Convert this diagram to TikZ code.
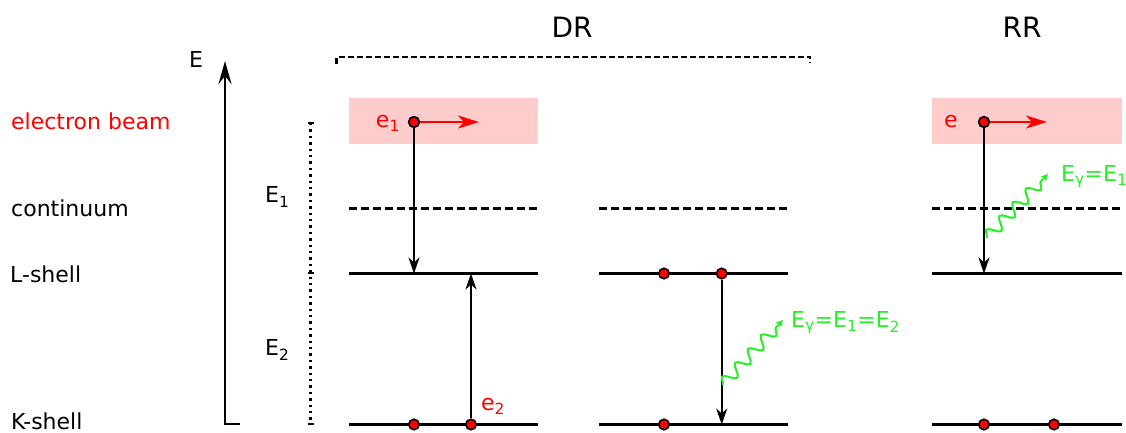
\documentclass[tikz,border=0pt]{standalone}
\usepackage{fontspec}
\setmainfont{DejaVu Sans}
\usetikzlibrary{arrows.meta,decorations.pathmorphing}
\definecolor{beam}{RGB}{255,204,204}
\definecolor{ered}{RGB}{255,0,0}
\definecolor{phot}{RGB}{40,240,40}
\tikzset{
  lbl/.style={font=\fontsize{22}{26}\selectfont, inner sep=0pt},
  big/.style={font=\fontsize{28}{32}\selectfont, inner sep=0pt},
  level/.style={line width=3pt},
  cont/.style={line width=3pt, dash pattern=on 8pt off 4pt},
  elec/.style={circle, draw=black, fill=ered, line width=1.6pt, inner sep=0pt, minimum size=10.5pt},
  trans/.style={line width=2.2pt, -{Stealth[length=16pt,width=11pt,inset=5pt]}},
  redarr/.style={draw=ered, line width=2.6pt, -{Stealth[length=21pt,width=13pt,inset=6pt]}},
  photon/.style={draw=phot, line width=2pt, decoration={snake, amplitude=6pt, segment length=19pt, post length=4pt}, decorate, -{Stealth[length=7pt,width=7pt,inset=2pt]}},
  beambox/.style={fill=beam, draw=none}
}
\begin{document}
\begin{tikzpicture}[x=1pt,y=-1pt]
\useasboundingbox (0,0) rectangle (1126,433);

% left labels
\node[lbl, text=ered, anchor=base west] (lbeam) at (11,129.5) {electron beam};
\node[lbl, anchor=base west] (lcont) at (11,216.5) {continuum};
\node[lbl, anchor=base west] (lL) at (10,282.3) {L-shell};
\node[lbl, anchor=base west] (lK) at (11,429.5) {K-shell};

% energy axis
\node[lbl] (Elab) at (196,59) {E};
\coordinate (axb) at (225,424);
\coordinate (axt) at (225,61);
\coordinate (axr) at (240,424);
\draw[line width=2.8pt, -{Stealth[length=23pt,width=13pt,inset=8pt]}] (axr) -- (axb) -- (axt);

% dotted energy scale
\coordinate (dt) at (310.5,123);
\coordinate (dm) at (310.5,273);
\coordinate (db) at (310.5,424);
\draw[line width=2.4pt, dash pattern=on 2.4pt off 4pt] (dt) -- (db);
\foreach \c in {dt,dm,db} \draw[line width=2.4pt] ([xshift=-3pt]\c) -- ([xshift=3.5pt]\c);
\node[lbl, anchor=west] (E1lab) at (265,197) {E\textsubscript{1}};
\node[lbl, anchor=west] (E2lab) at (265,350) {E\textsubscript{2}};

% titles
\node[big] (DR) at (572,27) {DR};
\node[big] (RR) at (1022,27) {RR};
\coordinate (brl) at (336.5,64);
\coordinate (brr) at (810,63);
\draw[line width=2.2pt, dash pattern=on 6pt off 3pt] (brl) -- (336.5,57) -- (810,57) -- (brr);

% beams
\fill[beambox] (349,98) rectangle (538,144);
\fill[beambox] (932,98) rectangle (1122,144);

% levels column 1
\draw[cont] (349,208.5) -- (538,208.5);
\draw[level] (349,273.5) -- (538,273.5);
\draw[level] (349,424.5) -- (538,424.5);
% column 2
\draw[cont] (599,208.5) -- (788,208.5);
\draw[level] (599,273.5) -- (788,273.5);
\draw[level] (599,424.5) -- (788,424.5);
% RR
\draw[cont] (932,208.5) -- (1122,208.5);
\draw[level] (932,273.5) -- (1122,273.5);
\draw[level] (932,424.5) -- (1122,424.5);

% column 1
\coordinate (c1L) at (414,273.5);
\coordinate (c1b) at (479,122);
\coordinate (c1Lb) at (471,273.5);
\node[elec] (e1) at (414,122) {};
\node[elec] (k1a) at (414,424.5) {};
\node[elec] (k1b) at (471,424.5) {};
\draw[trans] (e1) -- (c1L);
\draw[trans] (k1b) -- (c1Lb);
\draw[redarr] (e1) -- (c1b);
\node[elec] at (414,122) {};
\node[lbl, text=ered, anchor=east] (e1lab) at (400,123) {e\textsubscript{1}};
\node[lbl, text=ered, anchor=west] (e2lab) at (481,406) {e\textsubscript{2}};

% column 2
\coordinate (c2K) at (721.7,424.5);
\node[elec] (l2a) at (664,273.5) {};
\node[elec] (l2b) at (721.7,273.5) {};
\node[elec] (k2a) at (664,424.5) {};
\draw[trans] (l2b) -- (c2K);
\coordinate (p1s) at (722.5,385);
\coordinate (p1e) at (783,320);
\draw[photon] (p1s) -- (p1e);
\node[lbl, text=phot, anchor=west] (p1lab) at (791,323) {E\textsubscript{γ}=E\textsubscript{1}=E\textsubscript{2}};

% RR column
\coordinate (c3L) at (984,273.5);
\coordinate (c3b) at (1047,122);
\node[elec] (e3) at (984,122) {};
\node[elec] (k3a) at (984,424.5) {};
\node[elec] (k3b) at (1054,424.5) {};
\draw[trans] (e3) -- (c3L);
\draw[redarr] (e3) -- (c3b);
\node[elec] at (984,122) {};
\node[lbl, text=ered, anchor=center] (elab) at (951,121) {e};
\coordinate (p2s) at (986.5,238);
\coordinate (p2e) at (1048,174);
\draw[photon] (p2s) -- (p2e);
\node[lbl, text=phot, anchor=west] (p2lab) at (1061,177) {E\textsubscript{γ}=E\textsubscript{1}};
\end{tikzpicture}
\end{document}
